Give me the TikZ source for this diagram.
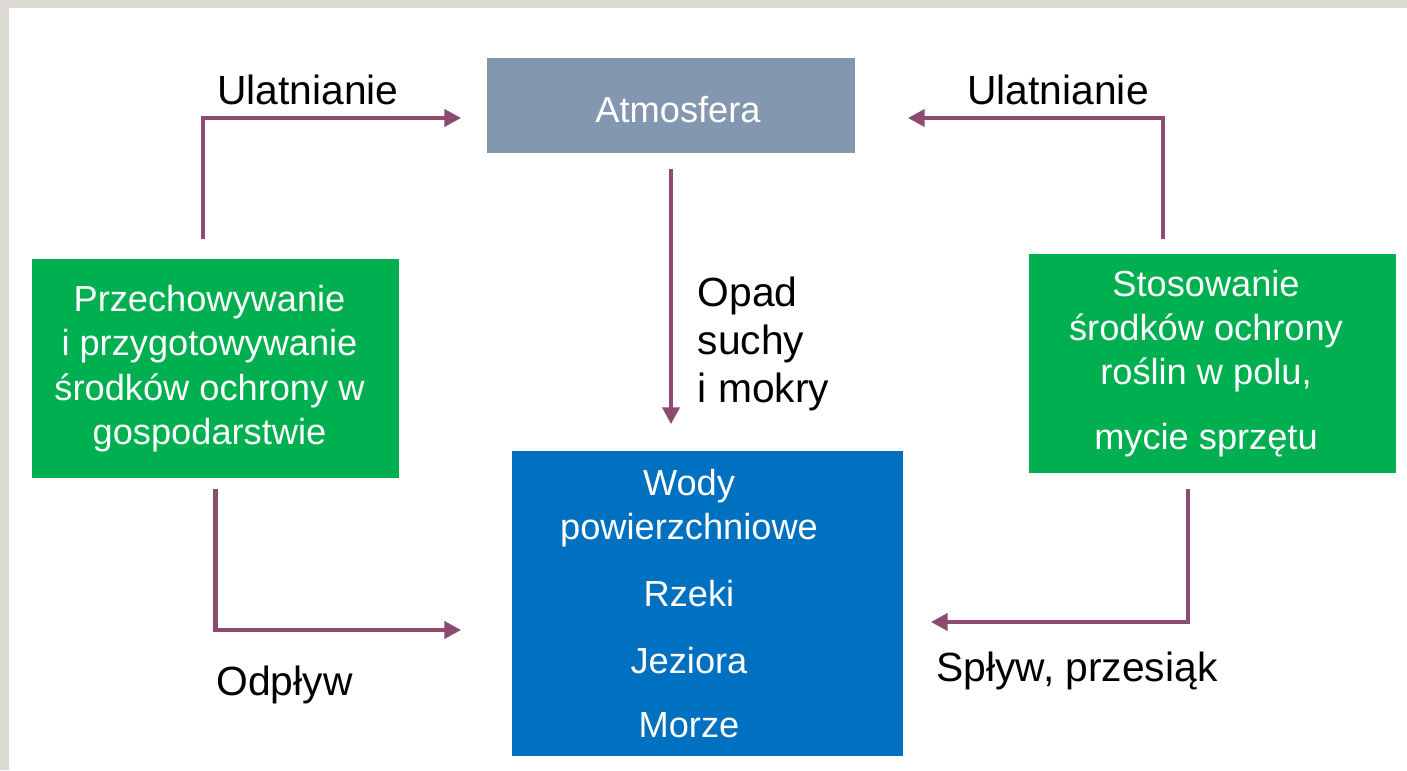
\documentclass[tikz,border=0pt]{standalone}
\usepackage{fontspec}
\setmainfont{Liberation Sans}
\usetikzlibrary{arrows.meta}
\definecolor{framegray}{RGB}{221,218,212}
\definecolor{atmgray}{RGB}{132,151,176}
\definecolor{farmgreen}{RGB}{0,176,80}
\definecolor{waterblue}{RGB}{0,112,192}
\definecolor{flowplum}{RGB}{140,76,112}
\begin{document}
\begin{tikzpicture}[x=0.01cm, y=-0.01cm,
    box/.style={inner sep=0pt},
    boxtext/.style={inner sep=0pt, text=white, align=center, font=\fontsize{10.3}{12.6}\selectfont},
    flow/.style={line width=1.2pt, draw=flowplum, -{Triangle[length=4.8pt,width=4.8pt]}},
    lbl/.style={inner sep=0pt, font=\fontsize{11.6}{13.7}\selectfont}]
    \useasboundingbox (0,0) rectangle (1407,770);
    % Frame
    \fill[framegray] (0,0) rectangle (1407,770);
    \fill[white] (9,8) rectangle (1407,770);
    % Boxes
    \node[box, fill=atmgray, minimum width=3.68cm, minimum height=0.95cm] (atm) at (671,105.5) {};
    \node[box, fill=farmgreen, minimum width=3.67cm, minimum height=2.19cm] (store) at (215.5,368.5) {};
    \node[box, fill=farmgreen, minimum width=3.67cm, minimum height=2.19cm] (field) at (1212.5,363.5) {};
    \node[box, fill=waterblue, minimum width=3.91cm, minimum height=3.05cm] (water) at (707.5,603.5) {};
    % Box texts
    \node[boxtext, text height=1em] (atmtext) at ([xshift=0.07cm]atm.center) {Atmosfera};
    \node[boxtext] (storetext) at ([xshift=-0.06cm]store.center)
        {Przechowywanie\\i przygotowywanie\\środków ochrony w\\gospodarstwie};
    \node[boxtext] (fieldtext) at ([xshift=-0.065cm]field.center)
        {Stosowanie\\środków ochrony\\roślin w polu,\\[5.8pt]mycie sprzętu};
    \node[boxtext] (watertext) at ([xshift=-0.185cm]water.center)
        {Wody\\powierzchniowe\\[6.4pt]Rzeki\\[6.4pt]Jeziora\\[5.8pt]Morze};
    % Flows
    \draw[flow] ([xshift=-0.125cm,yshift=0.19cm]store.north) |- ([xshift=-0.25cm,yshift=-0.125cm]atm.west);
    \draw[flow] ([yshift=-0.1cm]store.south) |- ([xshift=-0.5cm,yshift=-0.265cm]water.west);
    \draw[flow] ([yshift=-0.15cm]atm.south) -- ([yshift=0.26cm]atm.south |- water.north);
    \draw[flow] ([xshift=-0.495cm,yshift=0.14cm]field.north) |- ([xshift=0.52cm,yshift=-0.125cm]atm.east);
    \draw[flow] ([xshift=-0.245cm,yshift=-0.15cm]field.south) |- ([xshift=0.27cm,yshift=-0.185cm]water.east);
    % Labels
    \node[lbl, anchor=base] (evapleft) at (308,105) {Ulatnianie};
    \node[lbl, anchor=base] (evapright) at (1058,105) {Ulatnianie};
    \node[lbl, anchor=west, align=left, font=\fontsize{11.6}{13.6}\selectfont] (deposit) at (697,344) {Opad\\suchy\\i mokry};
    \node[lbl, anchor=base] (outflow) at (284.5,695) {Odpływ};
    \node[lbl, anchor=base] (runoff) at (1077,681) {Spływ, przesiąk};
\end{tikzpicture}
\end{document}
